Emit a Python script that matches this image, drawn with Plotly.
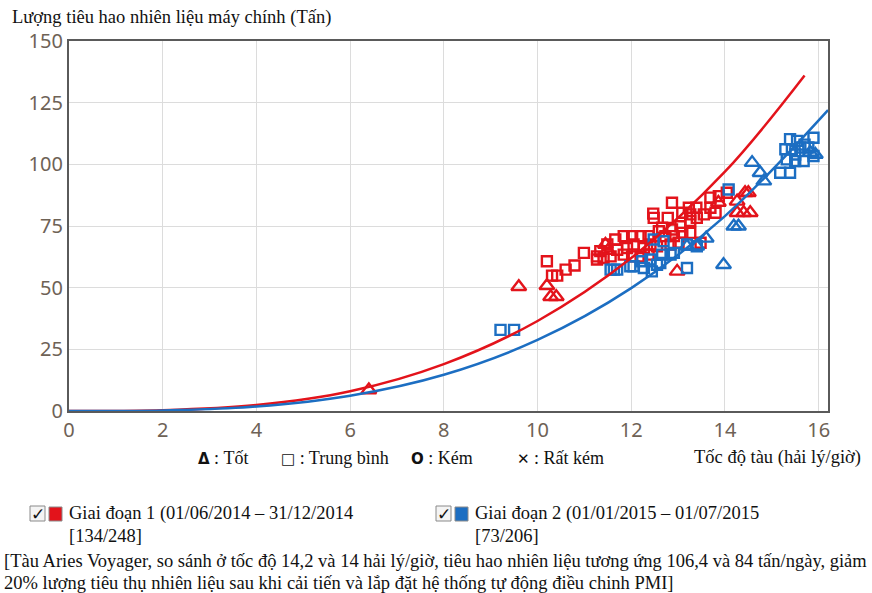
import plotly.graph_objects as go

# ---------------- data ----------------
red_curve_x = [0, 2, 4, 6, 8, 10, 12, 14, 15.7]
red_curve_y = [0, 0.3, 2.4, 8.0, 19, 36.5, 62, 97, 136]
blue_curve_x = [0, 2, 4, 6, 8, 10, 12, 14, 16.2]
blue_curve_y = [0, 0.2, 1.8, 6.2, 14.7, 28.8, 49.8, 79, 122]

red_sq_x = [10.2, 10.31, 10.42, 10.6, 10.79, 10.99, 11.27, 11.27, 11.34, 11.41, 11.49, 11.56, 11.66, 11.7,
            11.84, 11.84, 11.91, 12.02, 12.02, 12.05, 12.2, 12.2, 12.27, 12.37, 12.37, 12.41, 12.47, 12.48,
            12.55, 12.59, 12.66, 12.73, 12.78, 12.84, 12.87, 12.87, 12.91, 13.01, 13.05, 13.09, 13.09, 13.23,
            13.26, 13.26, 13.26, 13.39, 13.4, 13.48, 13.55, 13.69, 13.69, 13.8, 13.87, 14.04]
red_sq_y = [60.7, 54.9, 54.9, 57.3, 59, 64.1, 62.7, 61.4, 64.8, 62, 67.5, 62.7, 69.5, 65.4,
            70.9, 63.4, 66.1, 70.9, 62.7, 67.5, 70.9, 62.7, 66.1, 70.9, 63.4, 67.5, 80, 78.3,
            66.8, 72.9, 74.3, 70.9, 78.3, 67.5, 84.4, 73.6, 70.9, 68.2, 74.9, 80.4, 72.2, 82.4,
            79.7, 77, 72.2, 82.4, 78.3, 68.2, 79.7, 86.5, 82.4, 80.4, 87.1, 88.5]

red_tri_x = [6.4, 9.6, 10.2, 10.28, 10.4, 11.45, 11.5, 12.98, 14.26, 14.43, 14.5, 14.26, 14.4, 14.54, 13.86]
red_tri_y = [8.5, 50.4, 50.8, 46.3, 46.3, 67.5, 65, 56.6, 85, 88.5, 88.5, 80.4, 80.4, 80.4, 84.5]

blue_sq_x = [9.21, 9.5, 11.56, 11.7, 11.63, 11.98, 12.05, 12.23, 12.41, 12.55, 12.27, 12.44, 12.66, 12.84,
             12.62, 12.91, 13.19, 13.4, 13.19, 12.48, 12.69, 14.08, 15.39, 15.54, 15.89, 15.29, 15.43,
             15.61, 15.78, 15.32, 15.5, 15.68, 15.89, 15.18, 15.39, 15.5, 15.7]
blue_sq_y = [32.9, 32.9, 57.3, 57.3, 57.3, 58.7, 58.7, 60.7, 61.4, 59.3, 58, 56.6, 63.4, 63.4,
             60, 64.1, 67.5, 66.8, 58, 69.5, 68.8, 89.8, 110.2, 109.5, 110.8, 106.1, 106.1,
             106.8, 106.8, 102, 101.3, 101.3, 103.4, 96.6, 96.6, 104, 108]

blue_tri_x = [13.97, 14.19, 14.29, 14.58, 14.75, 14.83, 13.19, 13.4, 15.82, 15.93, 13.6]
blue_tri_y = [59.3, 74.9, 74.9, 100.7, 96.6, 93.2, 66.8, 66.8, 104.8, 104, 70]

x_ticks = [0, 2, 4, 6, 8, 10, 12, 14, 16]
y_ticks = [0, 25, 50, 75, 100, 125, 150]

RED = "#e3131b"
BLUE = "#1c6ec2"

# ---------------- figure ----------------
fig = go.Figure()

fig.add_trace(go.Scatter(x=red_sq_x, y=red_sq_y, mode="markers",
                         marker=dict(symbol="square-open", size=10, color=RED, line=dict(width=2.4, color=RED))))
fig.add_trace(go.Scatter(x=red_tri_x, y=red_tri_y, mode="markers",
                         marker=dict(symbol="triangle-up-open", size=13, color=RED, line=dict(width=2.4, color=RED))))
fig.add_trace(go.Scatter(x=blue_sq_x, y=blue_sq_y, mode="markers",
                         marker=dict(symbol="square-open", size=10, color=BLUE, line=dict(width=2.4, color=BLUE))))
fig.add_trace(go.Scatter(x=blue_tri_x, y=blue_tri_y, mode="markers",
                         marker=dict(symbol="triangle-up-open", size=13, color=BLUE, line=dict(width=2.4, color=BLUE))))
fig.add_trace(go.Scatter(x=red_curve_x, y=red_curve_y, mode="lines",
                         line=dict(color=RED, width=2.5, shape="spline")))
fig.add_trace(go.Scatter(x=blue_curve_x, y=blue_curve_y, mode="lines",
                         line=dict(color=BLUE, width=2.5, shape="spline")))

W, H = 872, 593
L, R, T, B = 69, 828, 41, 411


def px(xp):
    return (xp - L) / (R - L)


def py(yp):
    return (B - yp) / (B - T)


tickfont = dict(family="Noto Sans", size=20, color="#6e6256")
fig.update_layout(
    width=W, height=H,
    margin=dict(l=L, r=W - R, t=T, b=H - B),
    paper_bgcolor="white", plot_bgcolor="white",
    showlegend=False,
    xaxis=dict(range=[0, 16.2], tickvals=x_ticks, ticktext=[str(v) for v in x_ticks],
               showgrid=True, gridcolor="#dcdcdc", gridwidth=1.2, zeroline=False,
               showline=True, mirror=True, linecolor="#5a5a5a", linewidth=2.2,
               tickfont=tickfont, ticks=""),
    yaxis=dict(range=[0, 150], tickvals=y_ticks, ticktext=[str(v) for v in y_ticks],
               showgrid=True, gridcolor="#dcdcdc", gridwidth=1.2, zeroline=False,
               showline=True, mirror=True, linecolor="#5a5a5a", linewidth=2.2,
               tickfont=tickfont, ticks=""),
)

serif = "Liberation Serif"
ann = []


def text(x, y, s, size=18.5, anchor="left", fam=serif, color="#111"):
    ann.append(dict(xref="paper", yref="paper", x=px(x), y=py(y), text=s, showarrow=False,
                    xanchor=anchor, yanchor="middle", font=dict(family=fam, size=size, color=color)))


def glyph(g):
    return "<span style='font-family:DejaVu Sans;font-size:15px'><b>" + g + "</b></span>"


text(10, 17, "Lượng tiêu hao nhiên liệu máy chính (Tấn)")
text(196, 458, glyph("Δ") + " : Tốt", size=18)
text(279, 458, glyph("□") + " : Trung bình", size=18)
text(409, 458, glyph("O") + " : Kém", size=18)
text(515, 458, glyph("✕") + " : Rất kém", size=18)
text(692, 457, "Tốc độ tàu (hải lý/giờ)")

text(67, 513, "Giai đoạn 1 (01/06/2014 – 31/12/2014")
text(67, 536, "[134/248]")
text(473, 513, "Giai đoạn 2 (01/01/2015 – 01/07/2015")
text(473, 536, "[73/206]")
text(2, 561, "[Tàu Aries Voyager, so sánh ở tốc độ 14,2 và 14 hải lý/giờ, tiêu hao nhiên liệu tương ứng 106,4 và 84 tấn/ngày, giảm")
text(2, 583, "20% lượng tiêu thụ nhiên liệu sau khi cải tiến và lắp đặt hệ thống tự động điều chinh PMI]")

# checkboxes and colour swatches
shapes = []
for x0, col in [(30, RED), (436, BLUE)]:
    shapes.append(dict(type="rect", xref="paper", yref="paper", x0=px(x0), x1=px(x0 + 15),
                       y0=py(521), y1=py(506), line=dict(color="#8a8a8a", width=1), fillcolor="#f4f4f4"))
    shapes.append(dict(type="rect", xref="paper", yref="paper", x0=px(x0 + 19), x1=px(x0 + 32),
                       y0=py(521), y1=py(507), line=dict(color="#8a8a8a", width=1), fillcolor=col))
    ann.append(dict(xref="paper", yref="paper", x=px(x0 + 7.5), y=py(514), text="<b>✓</b>", showarrow=False,
                    xanchor="center", yanchor="middle", font=dict(family="DejaVu Sans", size=17, color="#111")))

fig.update_layout(annotations=ann, shapes=shapes)
fig.write_html("out.html")
